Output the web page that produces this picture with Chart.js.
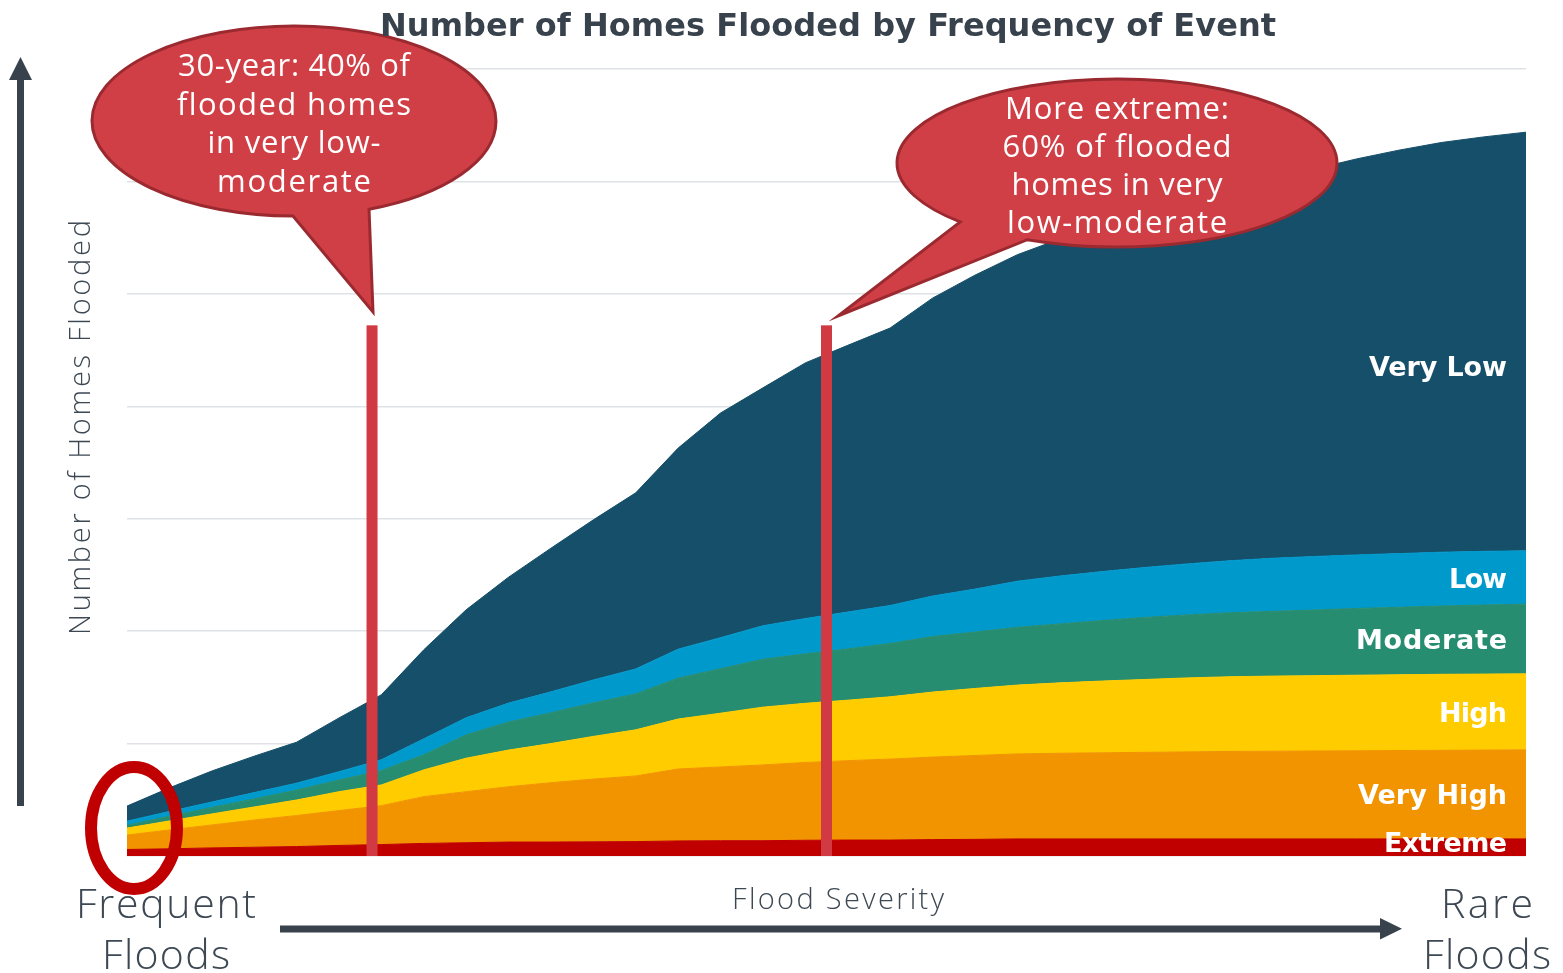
<!DOCTYPE html>
<html lang="en">
<head>
<meta charset="utf-8">
<title>Number of Homes Flooded by Frequency of Event</title>
<script src="https://cdn.jsdelivr.net/npm/chart.js@4.4.1/dist/chart.umd.min.js"></script>
<style>
    html, body { margin: 0; padding: 0; background: #ffffff; }
    #chartBox { width: 1563px; height: 973px; }
</style>
</head>
<body>
<div id="chartBox"><canvas id="floodChart" width="1563" height="973"></canvas></div>
<script>
// flood events, ordered from frequent (left) to rare (right)
const events = ['1', '2', '3', '4', '5', '6', '7', '8', '9', '10', '11', '12', '13', '14', '15', '16', '17',
    '18', '19', '20', '21', '22', '23', '24', '25', '26', '27', '28', '29', '30', '31', '32', '33', '34'];

// homes flooded per risk band (stacked bottom -> top)
const extreme = [29, 32, 36, 39, 42, 47, 51, 56, 59, 62, 62, 63, 64, 67, 68, 68, 70, 71, 71, 73, 74,
    76, 76, 76, 76, 76, 76, 76, 76, 76, 76, 76, 76, 76];
const veryHigh = [64, 84, 102, 121, 138, 155, 173, 208, 227, 246, 264, 279, 292, 320, 328, 337, 346,
    353, 360, 367, 373, 378, 381, 383, 385, 387, 389, 390, 391, 392, 393, 394, 395, 396];
const high = [31, 40, 49, 58, 69, 84, 92, 119, 149, 163, 174, 190, 205, 222, 239, 257, 263, 269, 277,
    289, 298, 306, 313, 319, 324, 329, 332, 334, 335, 336, 337, 338, 338, 338];
const moderate = [13, 21, 29, 36, 44, 52, 64, 67, 104, 125, 137, 149, 160, 182, 198, 213, 220, 228,
    237, 247, 251, 257, 262, 269, 276, 280, 285, 288, 292, 297, 300, 304, 307, 310];
const low = [18, 21, 24, 28, 31, 37, 48, 71, 76, 84, 93, 102, 111, 129, 138, 149, 157, 164, 169, 180,
    191, 205, 213, 218, 222, 227, 231, 236, 238, 238, 239, 239, 239, 237];
const veryLow = [67, 105, 138, 162, 182, 239, 289, 396, 480, 560, 639, 712, 783, 894, 999, 1058, 1137,
    1186, 1234, 1325, 1396, 1452, 1499, 1541, 1581, 1619, 1654, 1688, 1723, 1761, 1794, 1822, 1843, 1862];

const bandNames = ['Extreme', 'Very High', 'High', 'Moderate', 'Low', 'Very Low'];
const bandData = [extreme, veryHigh, high, moderate, low, veryLow];
const bandColors = ['#c00000', '#f29400', '#ffcc00', '#278d70', '#0099cc', '#154f69'];

// y axis: 0 - 3500 homes, gridline every 500 (no tick labels shown)
const yMax = 3500;
const yStep = 500;

// callouts: event position of the red markers and the text in the bubbles
const markerEvents = [5.78, 16.5];
const markerTop = 2360;
const note30Year = ['30-year: 40% of', 'flooded homes', 'in very low-', 'moderate'];
const noteExtreme = ['More extreme:', '60% of flooded', 'homes in very', 'low-moderate'];

const DARK = '#37424c';
const BUBBLE_FILL = '#d13f46';
const BUBBLE_EDGE = '#9b2a30';

// draw text stretched/squeezed (letter spacing) to a target width
function fitText(ctx, text, x, y, width, align) {
    ctx.letterSpacing = '0px';
    const w = ctx.measureText(text).width;
    const n = [...text].length;
    const sp = n > 1 ? (width - w) / (n - 1) : 0;
    ctx.letterSpacing = sp.toFixed(2) + 'px';
    let left = x;
    if (align === 'center') left = x - width / 2;
    if (align === 'right') left = x - width;
    ctx.textAlign = 'left';
    ctx.fillText(text, left, y);
    ctx.letterSpacing = '0px';
}

function drawBubble(ctx, cx, cy, rx, ry, baseA, baseB, tip) {
    const angle = p => Math.atan2((p[1] - cy) / ry, (p[0] - cx) / rx);
    ctx.beginPath();
    ctx.ellipse(cx, cy, rx, ry, 0, angle(baseA), angle(baseB), false);
    ctx.lineTo(tip[0], tip[1]);
    ctx.closePath();
    ctx.fillStyle = BUBBLE_FILL;
    ctx.fill();
    ctx.lineWidth = 3;
    ctx.lineJoin = 'miter';
    ctx.strokeStyle = BUBBLE_EDGE;
    ctx.stroke();
}

const overlay = {
    id: 'overlay',
    afterDraw(chart) {
        const ctx = chart.ctx;
        const xs = chart.scales.x;
        const ys = chart.scales.y;
        const area = chart.chartArea;
        ctx.save();

        // red marker lines
        ctx.fillStyle = '#d13a42';
        markerEvents.forEach(ev => {
            const px = xs.getPixelForValue(ev);
            const top = ys.getPixelForValue(markerTop);
            ctx.fillRect(px - 5.5, top, 11, ys.getPixelForValue(0) - top);
        });

        // band labels at the right edge
        const last = events.length - 1;
        let cum = 0;
        ctx.fillStyle = '#ffffff';
        ctx.font = 'bold 27px "DejaVu Sans", sans-serif';
        ctx.textBaseline = 'alphabetic';
        const labelWidths = [123, 149, 68, 151, 58, 138];
        bandNames.forEach((name, i) => {
            const lo = cum;
            cum += bandData[i][last];
            let y = (ys.getPixelForValue(lo) + ys.getPixelForValue(cum)) / 2 + 10;
            if (name === 'Very Low') y += 24;
            if (name === 'Extreme') y -= 5;
            fitText(ctx, name, area.right - 19, y, labelWidths[i], 'right');
        });

        // circle round the frequent-flood end
        ctx.beginPath();
        ctx.ellipse(xs.getPixelForValue(0) + 7, ys.getPixelForValue(0) - 28, 43, 61, 0, 0, Math.PI * 2);
        ctx.lineWidth = 12;
        ctx.strokeStyle = '#c00000';
        ctx.stroke();

        // speech bubbles
        drawBubble(ctx, 294, 121, 202, 95, [293, 216], [368, 208], [373, 312]);
        drawBubble(ctx, 1117, 163, 220, 84, [960, 222], [1027, 240], [838, 316]);

        ctx.fillStyle = '#ffffff';
        ctx.font = '400 31px "Open Sans", Lato, sans-serif';
        const w1 = [232, 234, 173, 154];
        note30Year.forEach((t, i) => fitText(ctx, t, 294, 76 + i * 38.5, w1[i], 'center'));
        const w2 = [224, 229, 211, 220];
        noteExtreme.forEach((t, i) => fitText(ctx, t, 1117, 119 + i * 38, w2[i], 'center'));

        // title
        ctx.fillStyle = DARK;
        ctx.font = 'bold 32px "DejaVu Sans", sans-serif';
        fitText(ctx, 'Number of Homes Flooded by Frequency of Event', 380, 36, 896, 'left');

        // axis arrows
        ctx.fillStyle = DARK;
        ctx.fillRect(17, 78, 7, 728);
        ctx.beginPath();
        ctx.moveTo(9, 80); ctx.lineTo(32, 80); ctx.lineTo(20.5, 57); ctx.closePath();
        ctx.fill();
        ctx.fillRect(280, 925.5, 1102, 7);
        ctx.beginPath();
        ctx.moveTo(1380, 918); ctx.lineTo(1380, 939.5); ctx.lineTo(1402, 928.7); ctx.closePath();
        ctx.fill();

        // axis texts
        ctx.fillStyle = '#3d4853';
        ctx.font = '300 29px "Open Sans", Lato, sans-serif';
        fitText(ctx, 'Flood Severity', 838, 909, 212, 'center');
        ctx.save();
        ctx.translate(90, 635);
        ctx.rotate(-Math.PI / 2);
        fitText(ctx, 'Number of Homes Flooded', 0, 0, 415, 'left');
        ctx.restore();

        ctx.font = '300 41px "Open Sans", Lato, sans-serif';
        fitText(ctx, 'Frequent', 166, 918, 180, 'center');
        fitText(ctx, 'Floods', 166, 969, 128, 'center');
        fitText(ctx, 'Rare', 1487, 918, 92, 'center');
        fitText(ctx, 'Floods', 1487, 969, 128, 'center');

        ctx.restore();
    }
};

const datasets = bandNames.map((name, i) => ({
    label: name,
    data: bandData[i],
    backgroundColor: bandColors[i],
    borderColor: bandColors[i],
    borderWidth: 1,
    pointRadius: 0,
    tension: 0,
    fill: i === 0 ? 'origin' : '-1'
}));

const ctx = document.getElementById('floodChart').getContext('2d');
const floodChart = new Chart(ctx, {
    type: 'line',
    data: {
        labels: events,
        datasets: datasets
    },
    options: {
        responsive: false,
        animation: false,
        layout: {
            padding: { top: 69, right: 37, bottom: 117, left: 127 }
        },
        plugins: {
            legend: { display: false },
            title: { display: false },
            tooltip: { enabled: false }
        },
        scales: {
            x: {
                display: false
            },
            y: {
                stacked: true,
                min: 0,
                max: yMax,
                border: { display: false },
                ticks: { display: false, stepSize: yStep },
                grid: { color: '#dfe2e6', lineWidth: 1.5, drawTicks: false }
            }
        }
    },
    plugins: [overlay]
});
</script>
</body>
</html>
